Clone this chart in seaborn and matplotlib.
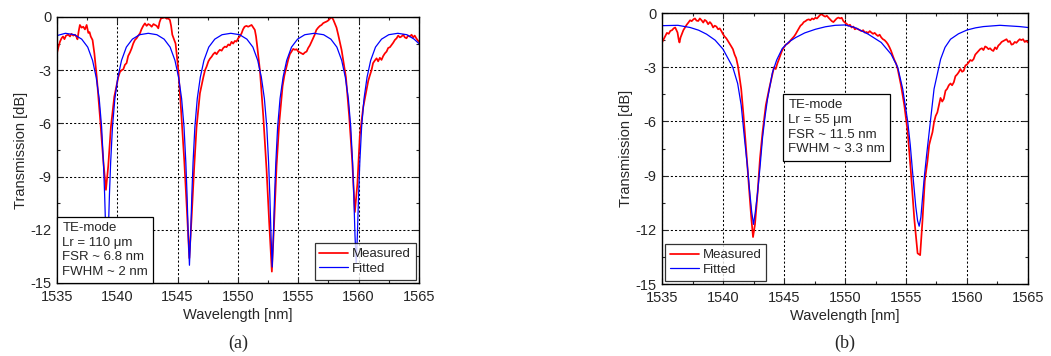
import numpy as np
import pandas as pd
import matplotlib
matplotlib.use("Agg")
import matplotlib.pyplot as plt
import seaborn as sns
from matplotlib.ticker import MultipleLocator

# ---------------- data (a) : measured ----------------
a_meas_wl = [1535.0, 1535.12, 1535.25, 1535.38, 1535.5, 1535.62, 1535.75, 1535.94, 1536.08, 1536.2,
             1536.35, 1536.5, 1536.6, 1536.7, 1536.8, 1536.9, 1537.04, 1537.18, 1537.32, 1537.46,
             1537.6, 1537.7, 1537.8, 1537.95, 1538.1, 1538.3, 1538.56, 1538.84, 1539.06, 1539.25,
             1539.47, 1539.75, 1540.08, 1540.22, 1540.36, 1540.5, 1540.63, 1540.77, 1540.9, 1541.05,
             1541.19, 1541.32, 1541.46, 1541.6, 1541.74, 1541.88, 1542.0, 1542.15, 1542.29, 1542.43,
             1542.57, 1542.71, 1542.85, 1543.0, 1543.12, 1543.26, 1543.4, 1543.5, 1543.62, 1543.78,
             1543.95, 1544.1, 1544.22, 1544.36, 1544.46, 1544.56, 1544.83, 1545.06, 1545.28, 1545.55,
             1545.77, 1545.97, 1546.16, 1546.38, 1546.57, 1546.85, 1547.13, 1547.27, 1547.4, 1547.55,
             1547.68, 1547.82, 1547.95, 1548.1, 1548.23, 1548.37, 1548.5, 1548.65, 1548.78, 1548.92,
             1549.05, 1549.2, 1549.33, 1549.47, 1549.6, 1549.75, 1549.88, 1550.02, 1550.15, 1550.3,
             1550.42, 1550.55, 1550.7, 1550.85, 1551.0, 1551.13, 1551.27, 1551.4, 1551.5, 1551.6,
             1551.82, 1552.1, 1552.37, 1552.59, 1552.81, 1553.0, 1553.2, 1553.42, 1553.7, 1553.85,
             1554.03, 1554.17, 1554.3, 1554.44, 1554.58, 1554.72, 1554.86, 1555.0, 1555.13, 1555.27,
             1555.4, 1555.55, 1555.69, 1555.82, 1555.96, 1556.1, 1556.23, 1556.36, 1556.5, 1556.65,
             1556.8, 1556.93, 1557.06, 1557.2, 1557.34, 1557.48, 1557.62, 1557.76, 1557.9, 1558.03,
             1558.17, 1558.31, 1558.59, 1558.95, 1559.22, 1559.47, 1559.69, 1559.9, 1560.1, 1560.38,
             1560.66, 1560.8, 1560.93, 1561.07, 1561.2, 1561.35, 1561.49, 1561.62, 1561.76, 1561.9,
             1562.04, 1562.18, 1562.32, 1562.45, 1562.6, 1562.73, 1562.87, 1563.0, 1563.15, 1563.28,
             1563.42, 1563.56, 1563.7, 1563.83, 1563.97, 1564.1, 1564.25, 1564.39, 1564.52, 1564.65,
             1564.78, 1564.88, 1565.0]
a_meas_db = [-2.05, -1.7, -1.39, -1.2, -1.1, -1.25, -1.05, -1.0, -1.1, -0.95,
             -1.05, -1.0, -1.1, -1.26, -0.8, -0.45, -0.6, -0.55, -0.7, -0.45,
             -0.9, -0.85, -1.1, -1.3, -2.05, -3.4, -5.6, -8.1, -9.75, -8.4,
             -6.2, -4.5, -3.4, -3.1, -3.0, -2.95, -2.7, -2.6, -2.2, -2.0,
             -1.77, -1.5, -1.3, -1.2, -1.05, -0.92, -0.7, -0.5, -0.36, -0.5,
             -0.4, -0.45, -0.55, -0.4, -0.45, -0.5, -0.64, -0.3, -0.08, -0.05,
             -0.02, -0.1, -0.08, -0.17, -0.5, -1.0, -1.5, -3.0, -5.2, -8.1,
             -10.9, -13.6, -11.3, -8.4, -6.2, -4.3, -3.4, -3.0, -2.8, -2.5,
             -2.35, -2.24, -2.1, -2.0, -2.1, -1.95, -1.85, -1.9, -1.75, -1.67,
             -1.7, -1.55, -1.6, -1.4, -1.5, -1.35, -1.39, -1.2, -1.1, -0.92,
             -0.7, -0.55, -0.5, -0.55, -0.5, -0.45, -0.6, -0.73, -1.1, -1.67,
             -3.0, -5.6, -8.6, -11.6, -14.36, -11.6, -8.4, -6.0, -3.9, -3.3,
             -2.8, -2.4, -2.1, -1.95, -1.8, -1.85, -1.82, -1.95, -2.0, -2.05,
             -2.1, -2.0, -1.95, -1.75, -1.6, -1.4, -1.2, -1.0, -0.73, -0.6,
             -0.5, -0.45, -0.35, -0.3, -0.26, -0.2, -0.1, 0.0, -0.15, -0.36,
             -0.6, -1.0, -1.86, -3.4, -5.6, -8.1, -11.0, -9.4, -6.7, -5.1,
             -4.1, -3.6, -3.3, -3.0, -2.6, -2.45, -2.33, -2.5, -2.3, -2.42,
             -2.2, -2.05, -1.95, -1.75, -1.7, -1.58, -1.45, -1.3, -1.2, -1.05,
             -1.15, -1.1, -1.0, -1.15, -1.2, -1.05, -1.1, -1.0, -1.15, -1.05,
             -1.2, -1.3, -1.4]

# ---------------- data (a) : fitted ----------------
a_fit_wl = [1535.0, 1535.7, 1536.45, 1537.05, 1537.55, 1537.95, 1538.25, 1538.5, 1538.7, 1538.85,
            1538.95, 1539.05, 1539.15, 1539.25, 1539.35, 1539.45, 1539.6, 1539.8, 1540.05, 1540.35,
            1540.75, 1541.25, 1541.85, 1542.57,
            1543.28, 1543.88, 1544.38, 1544.78, 1545.08, 1545.33, 1545.53, 1545.68, 1545.78, 1545.88,
            1545.98, 1546.08, 1546.18, 1546.28, 1546.43, 1546.63, 1546.88, 1547.18, 1547.58, 1548.08,
            1548.68, 1549.41,
            1550.14, 1550.74, 1551.24, 1551.64, 1551.94, 1552.19, 1552.39, 1552.54, 1552.64, 1552.74,
            1552.84, 1552.94, 1553.04, 1553.14, 1553.29, 1553.49, 1553.74, 1554.04, 1554.44, 1554.94,
            1555.54, 1556.32,
            1557.1, 1557.7, 1558.2, 1558.6, 1558.9, 1559.15, 1559.35, 1559.5, 1559.6, 1559.7,
            1559.8, 1559.9, 1560.0, 1560.1, 1560.25, 1560.45, 1560.7, 1561.0, 1561.4, 1561.9,
            1562.5, 1563.25, 1564.0, 1564.6, 1565.0]
a_fit_db = [-1.05, -0.92, -1.0, -1.25, -1.7, -2.45, -3.4, -4.6, -6.2, -8.2,
            -10.0, -12.3, -13.8, -12.3, -10.0, -8.2, -6.2, -4.6, -3.4, -2.45,
            -1.7, -1.25, -1.0, -0.92,
            -1.0, -1.25, -1.7, -2.45, -3.4, -4.6, -6.2, -8.2, -10.0, -12.3,
            -14.0, -12.3, -10.0, -8.2, -6.2, -4.6, -3.4, -2.45, -1.7, -1.25,
            -1.0, -0.92,
            -1.0, -1.25, -1.7, -2.45, -3.4, -4.6, -6.2, -8.2, -10.0, -12.3,
            -14.1, -12.3, -10.0, -8.2, -6.2, -4.6, -3.4, -2.45, -1.7, -1.25,
            -1.0, -0.92,
            -1.0, -1.25, -1.7, -2.45, -3.4, -4.6, -6.2, -8.2, -10.0, -12.3,
            -13.9, -12.3, -10.0, -8.2, -6.2, -4.6, -3.4, -2.45, -1.7, -1.25,
            -1.0, -0.92, -1.0, -1.25, -1.5]

# ---------------- data (b) : measured ----------------
b_meas_wl = [1535.0, 1535.14, 1535.27, 1535.4, 1535.55, 1535.68, 1535.82, 1535.95, 1536.08, 1536.18,
             1536.27, 1536.36, 1536.43, 1536.52, 1536.62, 1536.75, 1536.89, 1537.02, 1537.16, 1537.3,
             1537.43, 1537.57, 1537.7, 1537.83, 1537.97, 1538.1, 1538.24, 1538.38, 1538.5, 1538.64,
             1538.78, 1538.92, 1539.05, 1539.19, 1539.32, 1539.46, 1539.6, 1539.73, 1539.87, 1540.0,
             1540.13, 1540.27, 1540.4, 1540.54, 1540.68, 1540.81, 1540.95, 1541.08, 1541.22, 1541.49,
             1541.68, 1541.89, 1542.11, 1542.3, 1542.46, 1542.62, 1542.84, 1543.03, 1543.24, 1543.51,
             1543.78, 1544.05, 1544.18, 1544.32, 1544.45, 1544.59, 1544.72, 1544.86, 1545.0, 1545.14,
             1545.27, 1545.41, 1545.55, 1545.68, 1545.82, 1545.95, 1546.09, 1546.22, 1546.35, 1546.49,
             1546.62, 1546.76, 1546.89, 1547.03, 1547.16, 1547.3, 1547.43, 1547.57, 1547.7, 1547.84,
             1547.97, 1548.1, 1548.24, 1548.38, 1548.51, 1548.65, 1548.78, 1548.92, 1549.05, 1549.19,
             1549.32, 1549.46, 1549.6, 1549.73, 1549.87, 1550.0, 1550.14, 1550.27, 1550.41, 1550.54,
             1550.68, 1550.81, 1550.95, 1551.08, 1551.22, 1551.35, 1551.49, 1551.62, 1551.76, 1551.89,
             1552.03, 1552.16, 1552.3, 1552.43, 1552.57, 1552.7, 1552.84, 1552.97, 1553.11, 1553.24,
             1553.38, 1553.51, 1553.65, 1553.78, 1553.92, 1554.05, 1554.19, 1554.32, 1554.59, 1554.86,
             1555.14, 1555.4, 1555.68, 1555.95, 1556.16, 1556.35, 1556.54, 1556.76, 1556.9, 1557.03,
             1557.17, 1557.3, 1557.43, 1557.57, 1557.7, 1557.83, 1557.97, 1558.1, 1558.24, 1558.37,
             1558.51, 1558.65, 1558.78, 1558.92, 1559.05, 1559.19, 1559.32, 1559.46, 1559.6, 1559.73,
             1559.87, 1560.0, 1560.14, 1560.27, 1560.41, 1560.54, 1560.68, 1560.81, 1560.95, 1561.08,
             1561.22, 1561.35, 1561.49, 1561.62, 1561.76, 1561.89, 1562.03, 1562.16, 1562.3, 1562.43,
             1562.57, 1562.7, 1562.84, 1562.97, 1563.11, 1563.24, 1563.38, 1563.51, 1563.65, 1563.78,
             1563.92, 1564.05, 1564.19, 1564.32, 1564.46, 1564.6, 1564.73, 1564.87, 1565.0]
b_meas_db = [-1.63, -1.45, -1.27, -1.1, -1.15, -0.99, -0.95, -0.85, -0.8, -0.95,
             -1.08, -1.45, -1.63, -1.35, -1.17, -0.95, -0.8, -0.65, -0.53, -0.4,
             -0.45, -0.35, -0.3, -0.42, -0.44, -0.3, -0.4, -0.53, -0.38, -0.45,
             -0.62, -0.5, -0.6, -0.8, -0.7, -0.75, -0.9, -0.85, -1.0, -1.17,
             -1.3, -1.4, -1.54, -1.7, -1.85, -2.0, -2.3, -2.5, -2.92, -4.2,
             -5.67, -7.5, -9.5, -11.2, -12.4, -11.7, -9.9, -8.05, -6.6, -5.1,
             -4.2, -3.38, -3.0, -3.1, -2.8, -2.55, -2.3, -2.05, -1.9, -1.75,
             -1.7, -1.63, -1.5, -1.4, -1.3, -1.17, -1.0, -0.85, -0.7, -0.62,
             -0.5, -0.45, -0.38, -0.35, -0.4, -0.3, -0.35, -0.26, -0.3, -0.2,
             -0.1, -0.07, -0.15, -0.2, -0.15, -0.26, -0.35, -0.45, -0.5, -0.4,
             -0.3, -0.25, -0.3, -0.26, -0.45, -0.53, -0.6, -0.7, -0.65, -0.8,
             -0.75, -0.9, -0.85, -0.9, -0.95, -1.0, -0.95, -1.08, -1.05, -1.1,
             -1.0, -1.08, -1.15, -1.1, -1.2, -1.27, -1.2, -1.35, -1.45, -1.5,
             -1.6, -1.72, -1.9, -2.1, -2.37, -2.6, -2.8, -3.1, -4.0, -5.1,
             -6.6, -8.8, -11.4, -13.3, -13.4, -11.5, -9.3, -8.2, -7.3, -6.95,
             -6.6, -6.04, -5.7, -5.5, -5.1, -4.7, -4.9, -4.75, -4.3, -4.2,
             -4.0, -3.9, -4.0, -3.83, -3.5, -3.4, -3.28, -3.1, -3.25, -3.2,
             -2.9, -2.85, -2.73, -2.6, -2.65, -2.55, -2.3, -2.2, -2.1, -2.0,
             -1.95, -2.05, -1.85, -1.9, -2.0, -1.95, -2.05, -2.1, -1.9, -2.0,
             -1.8, -1.72, -1.6, -1.55, -1.5, -1.45, -1.6, -1.55, -1.75, -1.72,
             -1.6, -1.65, -1.54, -1.45, -1.5, -1.45, -1.6, -1.55, -1.63]

# ---------------- data (b) : fitted ----------------
b_fit_wl = [1535.0, 1536.3, 1537.3, 1538.0, 1538.65, 1539.35, 1540.0, 1540.8, 1541.2, 1541.49,
            1541.76, 1542.0, 1542.16, 1542.35, 1542.5, 1542.65, 1542.84, 1543.05, 1543.24, 1543.45,
            1543.65, 1544.05, 1544.4, 1544.86, 1545.4, 1545.95, 1546.7, 1547.57, 1548.4, 1549.2,
            1550.0, 1550.8, 1551.9, 1552.97, 1553.78, 1554.32, 1554.73, 1555.14, 1555.35, 1555.54,
            1555.8, 1555.95, 1556.08, 1556.22, 1556.49, 1556.7, 1556.9, 1557.3, 1557.84, 1558.2,
            1558.65, 1559.3, 1560.0, 1560.7, 1561.35, 1562.7, 1564.32, 1565.0]
b_fit_db = [-0.7, -0.68, -0.8, -0.95, -1.17, -1.5, -2.0, -3.0, -3.9, -5.1,
            -6.95, -8.5, -9.7, -11.0, -11.7, -11.0, -9.9, -8.4, -6.9, -5.7,
            -4.75, -3.3, -2.6, -1.96, -1.6, -1.36, -1.1, -0.9, -0.76, -0.68,
            -0.66, -0.8, -1.17, -1.63, -2.28, -3.0, -4.2, -6.0, -7.3, -8.8,
            -10.7, -11.5, -11.8, -11.3, -9.15, -7.8, -6.6, -4.2, -2.55, -1.9,
            -1.45, -1.15, -0.94, -0.82, -0.75, -0.68, -0.75, -0.8]

panel_labels = ["(a)", "(b)"]
box_texts = ["TE-mode\nLr = 110 \u03bcm\nFSR ~ 6.8 nm\nFWHM ~ 2 nm",
             "TE-mode\nLr = 55 \u03bcm\nFSR ~ 11.5 nm\nFWHM ~ 3.3 nm"]
legend_labels = ["Measured", "Fitted"]
x_ticks = [1535, 1540, 1545, 1550, 1555, 1560, 1565]
y_ticks = [0, -3, -6, -9, -12, -15]

# ---------------- style ----------------
sns.set_style("ticks")
plt.rcParams['font.family'] = ['Liberation Sans', 'DejaVu Sans']
plt.rcParams['axes.unicode_minus'] = False

fig = plt.figure(figsize=(10.51, 3.56), dpi=100)
ax_a = fig.add_axes([0.0542, 0.2051, 0.3444, 0.7472])
ax_b = fig.add_axes([0.6299, 0.2022, 0.3482, 0.7612])

panels = [
    (ax_a, a_meas_wl, a_meas_db, a_fit_wl, a_fit_db, "lower right", (0.015, 0.018)),
    (ax_b, b_meas_wl, b_meas_db, b_fit_wl, b_fit_db, "lower left", (0.345, 0.475)),
]

for i, (ax, mw, md, fw, fd, loc, tpos) in enumerate(panels):
    dm = pd.DataFrame({"wl": mw, "db": md})
    df = pd.DataFrame({"wl": fw, "db": fd})
    ax.grid(True, which="major", color="black", linestyle=(0, (2.0, 2.0)), linewidth=0.75)
    ax.set_axisbelow(True)
    sns.lineplot(data=dm, x="wl", y="db", ax=ax, color="#ff0000", linewidth=1.25,
                 label=legend_labels[0], sort=False, estimator=None)
    sns.lineplot(data=df, x="wl", y="db", ax=ax, color="#0000ff", linewidth=0.9,
                 label=legend_labels[1], sort=False, estimator=None)
    ax.set_xlim(1535, 1565)
    ax.set_ylim(-15, 0)
    ax.set_xticks(x_ticks)
    ax.set_xticklabels([str(v) for v in x_ticks])
    ax.xaxis.set_minor_locator(MultipleLocator(2.5))
    ax.set_yticks(y_ticks)
    ax.set_yticklabels([str(v) for v in y_ticks])
    ax.yaxis.set_minor_locator(MultipleLocator(1.5))
    ax.tick_params(which="both", direction="in", top=True, right=True, labelsize=10.5)
    ax.tick_params(axis="x", pad=5)
    ax.tick_params(axis="y", pad=4)
    ax.tick_params(which="major", length=4, width=0.8)
    ax.tick_params(which="minor", length=2.5, width=0.8)
    ax.set_xlabel("Wavelength [nm]", fontsize=10.5, labelpad=3)
    ax.set_ylabel("Transmission [dB]", fontsize=10.5, labelpad=2)
    for sp in ax.spines.values():
        sp.set_linewidth(1.0)
        sp.set_color("black")
    leg = ax.legend(loc=loc, fontsize=9.5, frameon=True, fancybox=False, edgecolor="black",
                    handlelength=2.2, handletextpad=0.3, borderpad=0.35, labelspacing=0.2,
                    borderaxespad=0.25)
    leg.get_frame().set_linewidth(0.9)
    ax.text(tpos[0], tpos[1], box_texts[i], transform=ax.transAxes, fontsize=9.5,
            ha="left", va="bottom", linespacing=1.3,
            bbox=dict(boxstyle="square,pad=0.4", facecolor="white", edgecolor="black", linewidth=0.9),
            zorder=5)
    pos = ax.get_position()
    fig.text(pos.x0 + pos.width / 2, 0.0365, panel_labels[i], ha="center", va="center",
             fontsize=13, family=["Liberation Serif", "DejaVu Serif"])

fig.savefig("out.png", dpi=100)
